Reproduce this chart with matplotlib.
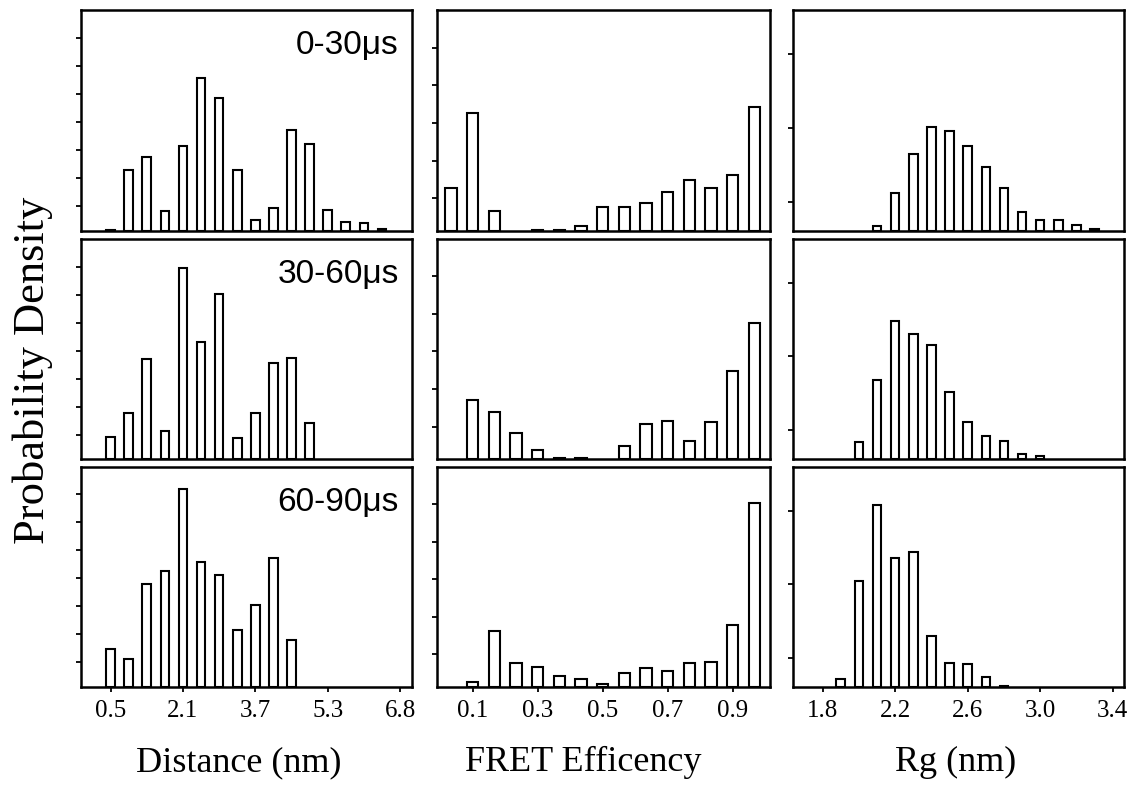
import numpy as np
import matplotlib
matplotlib.use("Agg")
import matplotlib.pyplot as plt

# Distance histograms (nm), bin i centred on dist_start + i * dist_step
dist_start = 0.5
dist_step = 1.575 / 4
dist_0_30 = [0.04, 2.19, 2.63, 0.71, 3.04, 5.44, 4.75, 2.17, 0.39, 0.82, 3.61, 3.10, 0.76, 0.31, 0.29, 0.07]
dist_30_60 = [0.79, 1.64, 3.58, 1.01, 6.82, 4.18, 5.89, 0.77, 1.65, 3.43, 3.62, 1.31]
dist_60_90 = [1.36, 1.01, 3.69, 4.13, 7.07, 4.48, 4.00, 2.02, 2.93, 4.60, 1.68]

# FRET efficiency histograms, 15 bins between 0 and 1
fret_bins = 15
fret_0_30 = [1.15, 3.14, 0.52, 0.0, 0.03, 0.02, 0.12, 0.63, 0.63, 0.74, 1.04, 1.35, 1.13, 1.50, 3.29]
fret_30_60 = [0.0, 1.58, 1.25, 0.71, 0.25, 0.04, 0.04, 0.0, 0.36, 0.94, 1.01, 0.48, 0.98, 2.36, 3.63]
fret_60_90 = [0.0, 0.13, 1.50, 0.64, 0.54, 0.28, 0.21, 0.08, 0.38, 0.50, 0.43, 0.63, 0.66, 1.64, 4.90]

# Rg histograms (nm), bins of 0.1 nm starting at 1.9
rg_start = 1.9
rg_step = 0.1
rg_0_30 = [0.0, 0.0, 0.07, 0.52, 1.05, 1.41, 1.36, 1.16, 0.87, 0.58, 0.26, 0.15, 0.15, 0.08, 0.03]
rg_30_60 = [0.0, 0.24, 1.08, 1.88, 1.70, 1.55, 0.91, 0.51, 0.31, 0.25, 0.07, 0.04]
rg_60_90 = [0.11, 1.44, 2.47, 1.76, 1.83, 0.69, 0.33, 0.31, 0.13, 0.02]

time_labels = ["0-30\u03bcs", "30-60\u03bcs", "60-90\u03bcs"]

dist_ticks = np.linspace(0.5, 6.8, 5)
dist_ticklabels = ["0.5", "2.1", "3.7", "5.3", "6.8"]
fret_ticks = [0.1, 0.3, 0.5, 0.7, 0.9]
fret_ticklabels = ["0.1", "0.3", "0.5", "0.7", "0.9"]
rg_ticks = [1.8, 2.2, 2.6, 3.0, 3.4]
rg_ticklabels = ["1.8", "2.2", "2.6", "3.0", "3.4"]

x_labels = ["Distance (nm)", "FRET Efficency", "Rg (nm)"]

W, H = 1136, 789
fig = plt.figure(figsize=(W / 100, H / 100), dpi=100)

col_left = [81, 437.5, 793]
col_width = [331, 332, 331]
rows = [(10, 231), (238.5, 459.3), (466.5, 687)]

serif = "Liberation Serif"
sans = "Liberation Sans"

columns = [
    {
        "data": [dist_0_30, dist_30_60, dist_60_90],
        "centers": lambda n: dist_start + dist_step * np.arange(n),
        "width": 0.187,
        "xlim": (-0.143, 7.06),
        "ylim": (0, 7.88),
        "yticks": 0.88 + np.arange(7),
        "xticks": dist_ticks,
        "xticklabels": dist_ticklabels,
    },
    {
        "data": [fret_0_30, fret_30_60, fret_60_90],
        "centers": lambda n: (np.arange(n) + 0.5) / fret_bins,
        "width": 0.0346,
        "xlim": (-0.008, 1.013),
        "ylim": (0, 5.87),
        "yticks": 0.87 + np.arange(5),
        "xticks": fret_ticks,
        "xticklabels": fret_ticklabels,
    },
    {
        "data": [rg_0_30, rg_30_60, rg_60_90],
        "centers": lambda n: rg_start + rg_step * np.arange(n),
        "width": 0.0473,
        "xlim": (1.637, 3.462),
        "ylim": (0, 3.0),
        "yticks": 0.4 + np.arange(3),
        "xticks": rg_ticks,
        "xticklabels": rg_ticklabels,
    },
]

for c, col in enumerate(columns):
    for r, (top, bottom) in enumerate(rows):
        ax = fig.add_axes([col_left[c] / W, 1 - bottom / H,
                           col_width[c] / W, (bottom - top) / H])
        vals = np.array(col["data"][r])
        xs = col["centers"](len(vals))
        keep = vals > 0
        ax.bar(xs[keep], vals[keep], width=col["width"], color="white",
               edgecolor="black", linewidth=1.5, zorder=2)
        ax.set_xlim(*col["xlim"])
        ax.set_ylim(*col["ylim"])
        ax.set_yticks(col["yticks"])
        ax.set_yticklabels([])
        for sp in ax.spines.values():
            sp.set_linewidth(1.8)
        ax.tick_params(axis="y", direction="out", length=3.5, width=1.3)
        if r == 2:
            ax.set_xticks(col["xticks"])
            ax.set_xticklabels(col["xticklabels"], fontsize=18, family=serif)
            ax.tick_params(axis="x", direction="out", length=3.5, width=1.3, pad=6)
        else:
            ax.set_xticks([])
        if c == 0:
            ax.text(0.96, 0.80, time_labels[r], transform=ax.transAxes,
                    ha="right", va="baseline", fontsize=24, family=sans)

label_x = [239, 583.5, 955.5]
for c in range(3):
    fig.text(label_x[c] / W, 1 - 771 / H, x_labels[c], ha="center",
             va="baseline", fontsize=26, family=serif)

fig.text(33 / W, 1 - 370 / H, "Probability Density", rotation=90,
         ha="center", va="center", fontsize=32, family=serif)

fig.savefig("out.png", dpi=100)
